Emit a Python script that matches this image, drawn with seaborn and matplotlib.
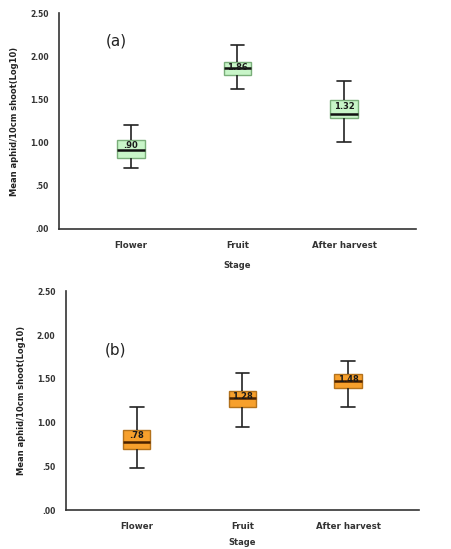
#!/usr/bin/env python3
"""Box plots of mean aphid counts per stage, two panels (a) and (b)."""

import matplotlib

matplotlib.use("Agg")
import matplotlib.pyplot as plt
import numpy as np
import pandas as pd
import seaborn as sns

STAGES = ["Flower", "Fruit", "After harvest"]

# Five-number summaries: min, q1, median, q3, max.
PANEL_A = {
    "Flower": [0.71, 0.82, 0.91, 1.03, 1.21],
    "Fruit": [1.62, 1.78, 1.87, 1.94, 2.13],
    "After harvest": [1.01, 1.29, 1.33, 1.49, 1.71],
}
PANEL_B = {
    "Flower": [0.48, 0.70, 0.78, 0.92, 1.18],
    "Fruit": [0.95, 1.18, 1.28, 1.36, 1.57],
    "After harvest": [1.18, 1.40, 1.48, 1.56, 1.70],
}
LABELS_A = [".90", "1.86", "1.32"]
LABELS_B = [".78", "1.28", "1.48"]

Y_TICKS = [0.0, 0.5, 1.0, 1.5, 2.0, 2.5]
Y_TICK_LABELS = [".00", ".50", "1.00", "1.50", "2.00", "2.50"]


def to_long(summary):
    rows = []
    for stage in STAGES:
        for v in summary[stage]:
            rows.append({"Stage": stage, "value": v})
    return pd.DataFrame(rows)


def draw_panel(ax, summary, labels, fill, edge, median_color, tag, tag_pos, xpad):
    df = to_long(summary)
    sns.boxplot(
        data=df, x="Stage", y="value", order=STAGES, ax=ax,
        color=fill, width=0.26, whis=np.inf, linewidth=1.0,
        boxprops={"facecolor": fill, "edgecolor": edge, "linewidth": 1.0},
        whiskerprops={"color": "#222222", "linewidth": 1.2},
        capprops={"color": "#222222", "linewidth": 1.2},
        medianprops={"color": median_color, "linewidth": 1.8},
        showfliers=False,
    )
    # Median labels near the top of each box.
    for i, stage in enumerate(STAGES):
        q3 = summary[stage][3]
        ax.text(i, q3 - 0.015, labels[i], ha="center", va="top",
                fontsize=6, fontweight="bold", color="#1a1a1a")

    ax.set_xlim(-0.67, 2.67)
    ax.set_ylim(0, 2.5)
    ax.set_yticks(Y_TICKS)
    ax.set_yticklabels(Y_TICK_LABELS)
    ax.tick_params(axis="y", labelsize=5.5, length=4, width=1, color="#333333")
    ax.tick_params(axis="x", labelsize=6.2, length=5, width=1, color="#333333")
    for lab in ax.get_xticklabels() + ax.get_yticklabels():
        lab.set_fontweight("bold")
        lab.set_color("#333333")
    ax.set_xlabel("Stage", fontsize=6, fontweight="bold", color="#333333", labelpad=xpad)
    ax.set_ylabel("Mean aphid/10cm shoot(Log10)", fontsize=6, fontweight="bold",
                  color="#222222", labelpad=8)
    for side in ["top", "right"]:
        ax.spines[side].set_visible(False)
    for side in ["left", "bottom"]:
        ax.spines[side].set_color("#333333")
        ax.spines[side].set_linewidth(1.2)
    ax.text(tag_pos[0], tag_pos[1], tag, transform=ax.transAxes, fontsize=11,
            color="#222222", ha="left", va="center")


def main() -> None:
    sns.set_style("white")
    fig = plt.figure(figsize=(4.51, 5.49), dpi=100)
    ax_a = fig.add_axes([0.131, 0.583, 0.791, 0.393])
    ax_b = fig.add_axes([0.146, 0.0705, 0.783, 0.399])

    draw_panel(ax_a, PANEL_A, LABELS_A, "#c8f5c8", "#7aae7a", "#111111",
               "(a)", (0.13, 0.87), 8)
    draw_panel(ax_b, PANEL_B, LABELS_B, "#f7a02c", "#b3721c", "#4a2200",
               "(b)", (0.11, 0.73), 5)

    fig.savefig("out.png", dpi=100, facecolor="white")


if __name__ == "__main__":
    main()
